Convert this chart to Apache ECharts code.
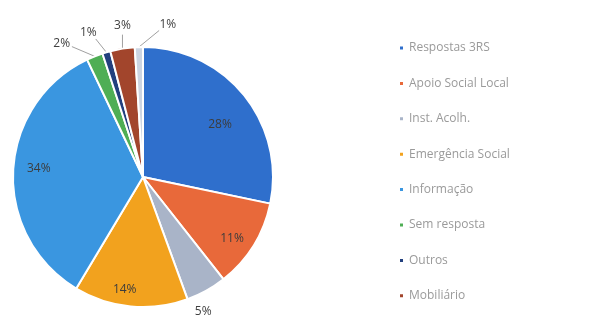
<!DOCTYPE html>
<html>
<head>
<meta charset="utf-8">
<style>
  html, body { margin: 0; padding: 0; background: #ffffff; }
  #chart { width: 592px; height: 320px; }
</style>
<script src="https://cdn.jsdelivr.net/npm/echarts@6/dist/echarts.min.js"></script>
</head>
<body>
<div id="chart"></div>
<script>
// Categories (clockwise from 12 o'clock) and their shares in %
const categories = [
  'Respostas 3RS', 'Apoio Social Local', 'Inst. Acolh.', 'Emergência Social',
  'Informação', 'Sem resposta', 'Outros', 'Mobiliário', 'Habitação'
];
const shares = [28, 11, 5, 14, 34, 2, 1, 3, 1];
const colors = ['#2f6fcc', '#e8693a', '#a9b4c8', '#f2a21e', '#3a96e0',
                '#4fae55', '#22407e', '#a2452c', '#ccd5e2'];
// Names shown in the legend
const legendNames = categories.slice(0, 8);

// Small slices get their label outside the pie, nudged by [dx, dy] from the rim
const outsideNudge = {
  2: [-3, 21],
  5: [-33, -13],
  6: [-18, -20],
  7: [0, -23],
  8: [29, -22]
};
// Fine offsets for the labels drawn inside the larger slices
const insideNudge = {
  0: [-7, 16],
  1: [-3, 4],
  3: [-8, 5],
  4: [4, -3]
};

const W = 592, H = 320;
const CX = 143, CY = 177, R = 130;
const center = [CX / W * 100 + '%', CY / H * 100 + '%'];

// Rim point at the middle of slice i, following the library's angle convention
const total = shares.reduce((a, b) => a + b, 0);
function rimPoint(i) {
  let before = 0;
  for (let k = 0; k < i; k++) before += shares[k];
  const mid = (before + shares[i] / 2) / total * Math.PI * 2; // clockwise from top
  return [CX + R * Math.sin(mid), CY - R * Math.cos(mid)];
}

const mainData = categories.map((name, i) => ({
  name,
  value: shares[i],
  itemStyle: { color: colors[i] },
  label: { show: i in outsideNudge },
  labelLine: { show: (i in outsideNudge) && i !== 2 }
}));

// Transparent copy used only to place the inner labels near the rim
const innerData = categories.map((name, i) => ({
  name,
  value: shares[i],
  label: { show: !(i in outsideNudge) }
}));

const chart = echarts.init(document.getElementById('chart'), null, { renderer: 'canvas' });
chart.setOption({
  backgroundColor: '#ffffff',
  animation: false,
  legend: {
    orient: 'vertical',
    left: 393,
    top: 37,
    data: legendNames,
    icon: 'rect',
    itemWidth: 5,
    itemHeight: 5,
    itemGap: 23.4,
    textStyle: { color: '#9a9a9a', fontSize: 12, fontFamily: 'Open Sans' }
  },
  series: [
    {
      type: 'pie',
      center,
      radius: R,
      startAngle: 90,
      clockwise: true,
      avoidLabelOverlap: false,
      itemStyle: { borderColor: '#ffffff', borderWidth: 2 },
      label: {
        position: 'outside',
        formatter: '{c}%',
        color: '#404040',
        fontSize: 12,
        fontFamily: 'Open Sans'
      },
      labelLine: { length: 8, length2: 8, lineStyle: { color: '#a0a0a0', width: 1 } },
      labelLayout: function (params) {
        const i = params.dataIndex;
        const nudge = outsideNudge[i];
        if (!nudge) return {};
        const rim = rimPoint(i);
        const lx = rim[0] + nudge[0], ly = rim[1] + nudge[1];
        const vx = rim[0] - lx, vy = rim[1] - ly;
        const len = Math.hypot(vx, vy);
        const start = [lx + vx / len * 11, ly + vy / len * 9];
        return {
          x: lx,
          y: ly,
          align: 'center',
          verticalAlign: 'middle',
          labelLinePoints: [rim, start, start]
        };
      },
      emphasis: { disabled: true },
      data: mainData
    },
    {
      type: 'pie',
      center,
      radius: [R * 0.62, R],
      startAngle: 90,
      clockwise: true,
      silent: true,
      itemStyle: { color: 'rgba(0,0,0,0)', borderWidth: 0 },
      label: {
        position: 'inside',
        formatter: '{c}%',
        color: '#3c3c3c',
        fontSize: 12,
        fontFamily: 'Open Sans'
      },
      labelLine: { show: false },
      labelLayout: function (params) {
        const n = insideNudge[params.dataIndex];
        return n ? { dx: n[0], dy: n[1] } : {};
      },
      emphasis: { disabled: true },
      data: innerData
    }
  ]
});
</script>
</body>
</html>
